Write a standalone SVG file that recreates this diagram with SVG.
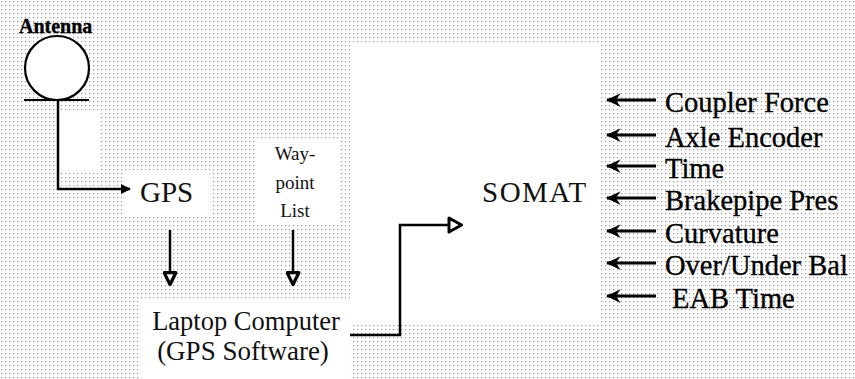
<svg xmlns="http://www.w3.org/2000/svg" width="855" height="379" viewBox="0 0 855 379">
<defs>
<pattern id="dots" width="4" height="4" patternUnits="userSpaceOnUse">
<rect x="1" y="1" width="1.2" height="1.2" fill="#555"/>
</pattern>
<marker id="filled" viewBox="0 0 10 10" refX="9" refY="5" markerWidth="10" markerHeight="10" markerUnits="userSpaceOnUse" orient="auto">
<path d="M0,0 L10,5 L0,10 Z" fill="#000"/>
</marker>
<marker id="notch" viewBox="0 0 12 12" refX="11" refY="6" markerWidth="15" markerHeight="15" markerUnits="userSpaceOnUse" orient="auto">
<path d="M0,0.5 L12,6 L0,11.5 L4,6 Z" fill="#000"/>
</marker>
<marker id="hollow" viewBox="0 0 14 14" refX="13" refY="7" markerWidth="15" markerHeight="15" markerUnits="userSpaceOnUse" orient="auto">
<path d="M1.5,1.5 L12.5,7 L1.5,12.5 Z" fill="#fff" stroke="#000" stroke-width="3" stroke-linejoin="round"/>
</marker>
<marker id="hollowbig" viewBox="0 0 16 18" refX="15" refY="9" markerWidth="16" markerHeight="18" markerUnits="userSpaceOnUse" orient="auto">
<path d="M2,2 L14.5,9 L2,16 Z" fill="#fff" stroke="#000" stroke-width="3" stroke-linejoin="round"/>
</marker>
</defs>
<style>
.t{font-family:"Liberation Serif","Times New Roman",serif;fill:#000;stroke:#000;stroke-width:0.35}
.thin{font-family:"Liberation Serif","Times New Roman",serif;fill:#111}
.ln{fill:none;stroke:#000;stroke-width:2.5}
.in{fill:none;stroke:#000;stroke-width:3}
</style>
<rect width="855" height="379" fill="#fff"/>
<g id="background" opacity="0.6">
<rect x="0" y="0" width="855" height="379" fill="url(#dots)"/>
<rect x="350" y="45" width="250" height="280" fill="#fff"/>
<rect x="125" y="170" width="85" height="45" fill="#fff"/>
<rect x="255" y="140" width="85" height="85" fill="#fff"/>
<rect x="140" y="300" width="210" height="79" fill="#fff"/>
<rect x="60" y="110" width="40" height="60" fill="#fff"/>
</g>
<g id="connectors">
<path class="ln" d="M58,100 V189 H130" marker-end="url(#filled)"/>
<path class="ln" d="M170,230 V285" marker-end="url(#hollow)"/>
<path class="ln" d="M293,230 V285" marker-end="url(#hollow)"/>
<path class="ln" d="M350,335 H400 V225 H462" marker-end="url(#hollowbig)"/>
<path class="in" d="M656,100 H607" marker-end="url(#notch)"/>
<path class="in" d="M656,135 H607" marker-end="url(#notch)"/>
<path class="in" d="M656,166 H607" marker-end="url(#notch)"/>
<path class="in" d="M656,198 H607" marker-end="url(#notch)"/>
<path class="in" d="M656,231 H607" marker-end="url(#notch)"/>
<path class="in" d="M656,263 H607" marker-end="url(#notch)"/>
<path class="in" d="M656,296 H607" marker-end="url(#notch)"/>
</g>
<g id="antenna">
<text class="t" x="19" y="33" font-size="20" font-weight="bold">Antenna</text>
<circle cx="57" cy="68" r="32" fill="#fff" stroke="#000" stroke-width="2.2"/>
<line x1="24" y1="100" x2="89" y2="100" stroke="#000" stroke-width="2.2"/>
</g>
<g id="gps">
<text class="thin" x="140" y="202" font-size="29">GPS</text>
</g>
<g id="waypoint">
<text class="thin" x="295" y="160" font-size="19" text-anchor="middle">Way-</text>
<text class="thin" x="295" y="189" font-size="19" text-anchor="middle">point</text>
<text class="thin" x="295" y="217" font-size="19" text-anchor="middle">List</text>
</g>
<g id="laptop">
<text class="thin" x="246" y="330" font-size="26.5" text-anchor="middle">Laptop Computer</text>
<text class="thin" x="243" y="360" font-size="27" text-anchor="middle">(GPS Software)</text>
</g>
<g id="somat">
<text class="thin" x="482" y="202" font-size="29" letter-spacing="1.5">SOMAT</text>
</g>
<g id="inputs">
<text class="t" x="665" y="112" font-size="28.5">Coupler Force</text>
<text class="t" x="665" y="147" font-size="28.5">Axle Encoder</text>
<text class="t" x="665" y="178" font-size="28.5">Time</text>
<text class="t" x="665" y="210" font-size="28.5">Brakepipe Pres</text>
<text class="t" x="665" y="243" font-size="28.5">Curvature</text>
<text class="t" x="665" y="275" font-size="28.5">Over/Under Bal</text>
<text class="t" x="672" y="308" font-size="28.5">EAB Time</text>
</g>
</svg>
